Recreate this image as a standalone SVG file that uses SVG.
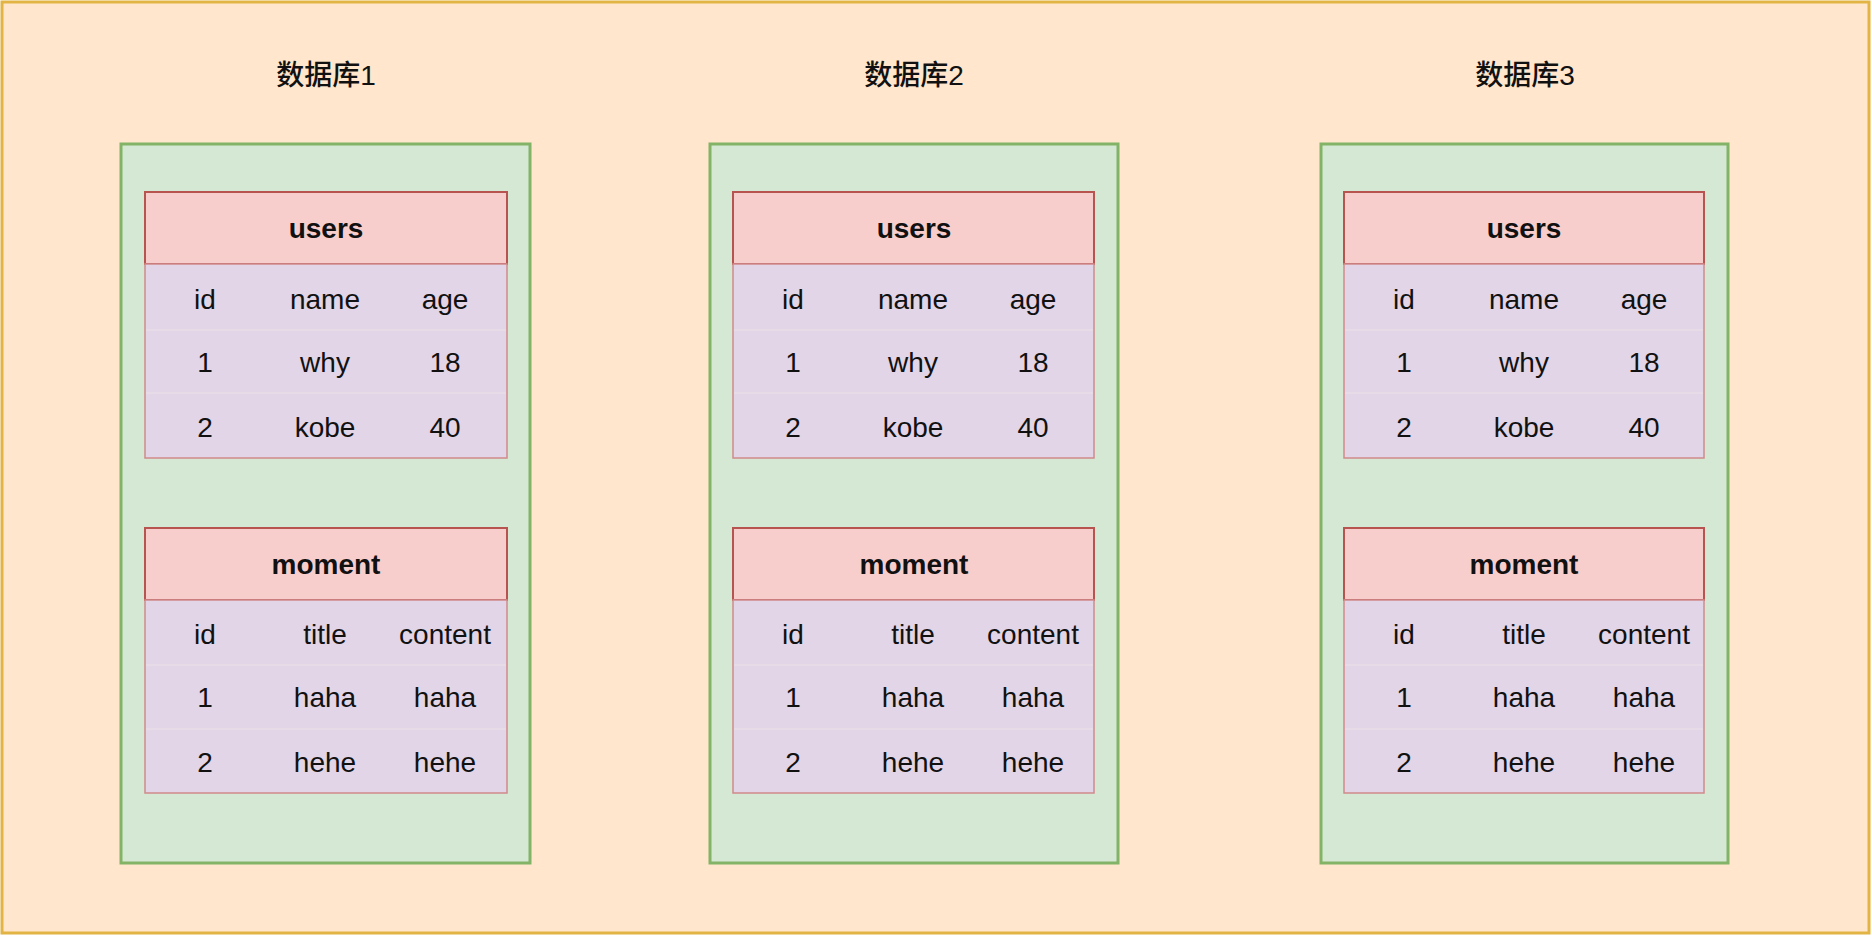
<svg xmlns="http://www.w3.org/2000/svg" width="1872" height="936" viewBox="0 0 1872 936">
<style>
.bg{fill:#ffe6cc;stroke:#e2b444;stroke-width:3}
.db{fill:#d5e8d4;stroke:#82b366;stroke-width:3}
.hd{fill:#f8cecc;stroke:#b85450;stroke-width:2}
.body{fill:#e1d5e7;stroke:#d08a8a;stroke-width:1.5}
.sep{stroke:#e9dde8;stroke-width:1.5}
text{font-family:"Liberation Sans","Noto Sans CJK SC",Arial,sans-serif;font-size:28px;fill:#111;text-anchor:middle}
.b{font-weight:bold}
.t{font-weight:500}
</style>
<rect class="bg" x="2" y="2" width="1867" height="931"/>
<g id="connectors"/>
<g id="db1">
<rect class="db" x="121" y="144" width="409" height="719"/>
<text class="t" x="326" y="85">数据库1</text>
<g id="db1-users">
<rect class="hd" x="145" y="192" width="362" height="72"/>
<rect class="body" x="145" y="264" width="362" height="194"/>
<line class="sep" x1="146" y1="330" x2="506" y2="330"/><line class="sep" x1="146" y1="393" x2="506" y2="393"/>
<text class="b" x="326" y="238">users</text>
<text x="205" y="309">id</text><text x="325" y="309">name</text><text x="445" y="309">age</text>
<text x="205" y="372">1</text><text x="325" y="372">why</text><text x="445" y="372">18</text>
<text x="205" y="437">2</text><text x="325" y="437">kobe</text><text x="445" y="437">40</text>
</g>
<g id="db1-moment">
<rect class="hd" x="145" y="528" width="362" height="72"/>
<rect class="body" x="145" y="600" width="362" height="193"/>
<line class="sep" x1="146" y1="665" x2="506" y2="665"/><line class="sep" x1="146" y1="729" x2="506" y2="729"/>
<text class="b" x="326" y="574">moment</text>
<text x="205" y="644">id</text><text x="325" y="644">title</text><text x="445" y="644">content</text>
<text x="205" y="707">1</text><text x="325" y="707">haha</text><text x="445" y="707">haha</text>
<text x="205" y="772">2</text><text x="325" y="772">hehe</text><text x="445" y="772">hehe</text>
</g>
</g>
<g id="db2" transform="translate(589,0)">
<rect class="db" x="121" y="144" width="408" height="719"/>
<text class="t" x="325" y="85">数据库2</text>
<g id="db2-users">
<rect class="hd" x="144" y="192" width="361" height="72"/>
<rect class="body" x="144" y="264" width="361" height="194"/>
<line class="sep" x1="145" y1="330" x2="504" y2="330"/><line class="sep" x1="145" y1="393" x2="504" y2="393"/>
<text class="b" x="325" y="238">users</text>
<text x="204" y="309">id</text><text x="324" y="309">name</text><text x="444" y="309">age</text>
<text x="204" y="372">1</text><text x="324" y="372">why</text><text x="444" y="372">18</text>
<text x="204" y="437">2</text><text x="324" y="437">kobe</text><text x="444" y="437">40</text>
</g>
<g id="db2-moment">
<rect class="hd" x="144" y="528" width="361" height="72"/>
<rect class="body" x="144" y="600" width="361" height="193"/>
<line class="sep" x1="145" y1="665" x2="504" y2="665"/><line class="sep" x1="145" y1="729" x2="504" y2="729"/>
<text class="b" x="325" y="574">moment</text>
<text x="204" y="644">id</text><text x="324" y="644">title</text><text x="444" y="644">content</text>
<text x="204" y="707">1</text><text x="324" y="707">haha</text><text x="444" y="707">haha</text>
<text x="204" y="772">2</text><text x="324" y="772">hehe</text><text x="444" y="772">hehe</text>
</g>
</g>
<g id="db3" transform="translate(1200,0)">
<rect class="db" x="121" y="144" width="407" height="719"/>
<text class="t" x="325" y="85">数据库3</text>
<g id="db3-users">
<rect class="hd" x="144" y="192" width="360" height="72"/>
<rect class="body" x="144" y="264" width="360" height="194"/>
<line class="sep" x1="145" y1="330" x2="503" y2="330"/><line class="sep" x1="145" y1="393" x2="503" y2="393"/>
<text class="b" x="324" y="238">users</text>
<text x="204" y="309">id</text><text x="324" y="309">name</text><text x="444" y="309">age</text>
<text x="204" y="372">1</text><text x="324" y="372">why</text><text x="444" y="372">18</text>
<text x="204" y="437">2</text><text x="324" y="437">kobe</text><text x="444" y="437">40</text>
</g>
<g id="db3-moment">
<rect class="hd" x="144" y="528" width="360" height="72"/>
<rect class="body" x="144" y="600" width="360" height="193"/>
<line class="sep" x1="145" y1="665" x2="503" y2="665"/><line class="sep" x1="145" y1="729" x2="503" y2="729"/>
<text class="b" x="324" y="574">moment</text>
<text x="204" y="644">id</text><text x="324" y="644">title</text><text x="444" y="644">content</text>
<text x="204" y="707">1</text><text x="324" y="707">haha</text><text x="444" y="707">haha</text>
<text x="204" y="772">2</text><text x="324" y="772">hehe</text><text x="444" y="772">hehe</text>
</g>
</g>
</svg>
